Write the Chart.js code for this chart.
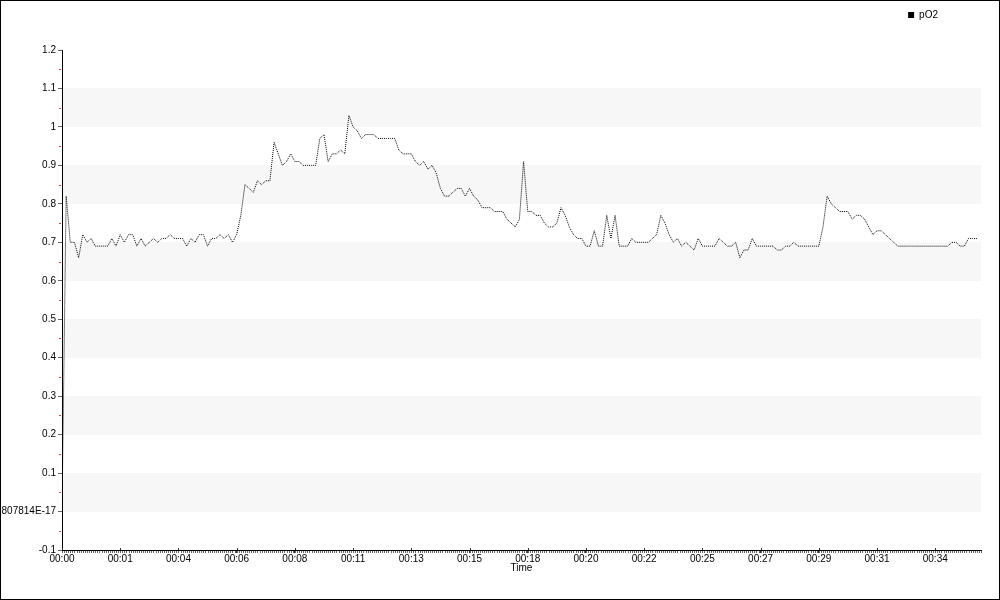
<!DOCTYPE html>
<html>
<head>
<meta charset="utf-8">
<title>pO2</title>
<script src="https://cdn.jsdelivr.net/npm/chart.js@4.4.1/dist/chart.umd.min.js"></script>
<style>
  html, body { margin: 0; padding: 0; background: #fff; }
  #frame { width: 1000px; height: 600px; box-sizing: border-box; border: 1px solid #000; }
  #frame canvas { display: block; }
</style>
</head>
<body>
<div id="frame"><canvas id="chart" width="998" height="598"></canvas></div>
<script>
// series, one value per sample (14 samples between two time labels)
const seriesName = "pO2";
const pO2 = [
  0, 0.82, 0.70, 0.70, 0.66, 0.72, 0.70, 0.71, 0.69, 0.69, 0.69, 0.69, 0.71, 0.69,
  0.72, 0.70, 0.72, 0.72, 0.69, 0.71, 0.69, 0.70, 0.71, 0.70, 0.71, 0.71, 0.72, 0.71,
  0.71, 0.71, 0.69, 0.71, 0.70, 0.72, 0.72, 0.69, 0.71, 0.71, 0.72, 0.71, 0.72, 0.70,
  0.72, 0.77, 0.85, 0.84, 0.83, 0.86, 0.85, 0.86, 0.86, 0.96, 0.93, 0.90, 0.91, 0.93,
  0.91, 0.91, 0.90, 0.90, 0.90, 0.90, 0.97, 0.98, 0.91, 0.93, 0.93, 0.94, 0.93, 1.03,
  1.00, 0.99, 0.97, 0.98, 0.98, 0.98, 0.97, 0.97, 0.97, 0.97, 0.97, 0.94, 0.93, 0.93,
  0.93, 0.91, 0.90, 0.91, 0.89, 0.90, 0.88, 0.84, 0.82, 0.82, 0.83, 0.84, 0.84, 0.82,
  0.84, 0.82, 0.81, 0.79, 0.79, 0.79, 0.78, 0.78, 0.78, 0.76, 0.75, 0.74, 0.76, 0.91,
  0.78, 0.78, 0.77, 0.77, 0.75, 0.74, 0.74, 0.75, 0.79, 0.77, 0.74, 0.72, 0.71, 0.71,
  0.69, 0.69, 0.73, 0.69, 0.69, 0.77, 0.71, 0.77, 0.69, 0.69, 0.69, 0.71, 0.70, 0.70,
  0.70, 0.70, 0.71, 0.72, 0.77, 0.75, 0.72, 0.70, 0.71, 0.69, 0.70, 0.69, 0.68, 0.71,
  0.69, 0.69, 0.69, 0.69, 0.71, 0.70, 0.69, 0.69, 0.70, 0.66, 0.68, 0.68, 0.71, 0.69,
  0.69, 0.69, 0.69, 0.69, 0.68, 0.68, 0.69, 0.69, 0.70, 0.69, 0.69, 0.69, 0.69, 0.69,
  0.69, 0.74, 0.82, 0.80, 0.79, 0.78, 0.78, 0.78, 0.76, 0.77, 0.77, 0.76, 0.74, 0.72,
  0.73, 0.73, 0.72, 0.71, 0.70, 0.69, 0.69, 0.69, 0.69, 0.69, 0.69, 0.69, 0.69, 0.69,
  0.69, 0.69, 0.69, 0.69, 0.70, 0.70, 0.69, 0.69, 0.71, 0.71, 0.71
];
const xTickLabels = ["00:00", "00:01", "00:04", "00:06", "00:08", "00:11", "00:13", "00:15",
                     "00:18", "00:20", "00:22", "00:25", "00:27", "00:29", "00:31", "00:34"];
const yTickLabels = ["-0.1", "1.3877787807814E-17", "0.1", "0.2", "0.3", "0.4", "0.5",
                     "0.6", "0.7", "0.8", "0.9", "1", "1.1", "1.2"];
const samplesPerLabel = 14;
const xMax = 221;

const FONT = "'Liberation Sans', Arial, sans-serif";
Chart.defaults.font.family = FONT;
Chart.defaults.font.size = 10;
Chart.defaults.color = "#000";

// bandes grises + petits traits secondaires des axes
const axisDecor = {
  id: "axisDecor",
  afterLayout(chart) {
    // legende en haut a droite, hors de la zone du graphe
    const lg = chart.legend;
    const h = lg.height;
    lg.top = 0;
    lg.bottom = h;
    lg.right = 946;
  },
  beforeDraw(chart) {
    const {ctx, chartArea, scales: {y}} = chart;
    ctx.save();
    ctx.fillStyle = "#f7f7f7";
    const ticks = y.ticks;
    for (let k = 1; k + 1 < ticks.length; k += 2) {
      const top = Math.round(y.getPixelForValue(ticks[k + 1].value));
      const bot = Math.round(y.getPixelForValue(ticks[k].value));
      ctx.fillRect(chartArea.left + 1, top, chartArea.right - chartArea.left - 1, bot - top);
    }
    ctx.restore();
  },
  afterDraw(chart) {
    const {ctx, chartArea, scales: {x, y}} = chart;
    ctx.save();
    ctx.lineWidth = 1;
    // y : traits rouges entre les graduations
    ctx.strokeStyle = "#ff3030";
    const ticks = y.ticks;
    for (let k = 0; k + 1 < ticks.length; k++) {
      const py = Math.round((y.getPixelForValue(ticks[k].value) + y.getPixelForValue(ticks[k + 1].value)) / 2) + 0.5;
      ctx.beginPath();
      ctx.moveTo(chartArea.left - 3, py);
      ctx.lineTo(chartArea.left - 1, py);
      ctx.stroke();
    }
    // x : petits traits tous les demi-echantillons
    ctx.strokeStyle = "#666";
    for (let i = 0; i <= xMax; i += 0.5) {
      const px = Math.round(x.getPixelForValue(i)) + 0.5;
      ctx.beginPath();
      ctx.moveTo(px, chartArea.bottom + 1);
      ctx.lineTo(px, chartArea.bottom + 3);
      ctx.stroke();
    }
    // graduations principales qui traversent l'axe
    ctx.strokeStyle = "#333";
    x.ticks.forEach(t => {
      const px = Math.round(x.getPixelForValue(t.value)) + 0.5;
      ctx.beginPath();
      ctx.moveTo(px, chartArea.bottom - 2);
      ctx.lineTo(px, chartArea.bottom);
      ctx.stroke();
    });
    ctx.restore();
  }
};

new Chart(document.getElementById("chart"), {
  type: "line",
  data: {
    datasets: [{
      label: seriesName,
      data: pO2.map((v, i) => ({x: i, y: v})),
      borderColor: "#000",
      backgroundColor: "#000",
      borderWidth: 1,
      borderDash: [1, 1],
      pointRadius: 0,
      tension: 0,
      fill: false
    }]
  },
  options: {
    responsive: false,
    animation: false,
    layout: { padding: { top: 20, right: 18, bottom: 25, left: 0 } },
    plugins: {
      legend: {
        position: "top",
        align: "end",
        labels: {
          boxWidth: 6,
          boxHeight: 6,
          padding: 9,
          color: "#000",
          font: { size: 10 },
          generateLabels(chart) {
            return Chart.defaults.plugins.legend.labels.generateLabels(chart).map(item =>
              Object.assign(item, {lineDash: [], lineWidth: 0, fillStyle: "#000", strokeStyle: "#000"}));
          }
        }
      },
      tooltip: { enabled: false }
    },
    scales: {
      x: {
        type: "linear",
        min: 0,
        max: xMax,
        afterBuildTicks(axis) {
          axis.ticks = xTickLabels.map((l, k) => ({value: k * samplesPerLabel}));
        },
        afterFit(scale) { scale.height = 24; },
        ticks: {
          autoSkip: false,
          maxRotation: 0,
          padding: 0,
          color: "#000",
          font: { size: 10 },
          callback: (value, index) => xTickLabels[index]
        },
        grid: { drawOnChartArea: false, tickLength: 3, tickColor: "#333" },
        border: { color: "#000", width: 1 },
        title: { display: true, text: "Time", color: "#000", font: { size: 10 }, padding: 0 }
      },
      y: {
        min: -0.1,
        max: 1.2,
        afterBuildTicks(axis) {
          axis.ticks = yTickLabels.map((l, k) => ({value: (k - 1) / 10}));
        },
        afterFit(scale) { scale.width = 61; },
        ticks: {
          padding: 2,
          color: "#000",
          font: { size: 10 },
          callback: (value, index) => yTickLabels[index]
        },
        grid: { drawOnChartArea: false, tickLength: 4, tickColor: "#666" },
        border: { color: "#000", width: 1 }
      }
    }
  },
  plugins: [axisDecor]
});
</script>
</body>
</html>
